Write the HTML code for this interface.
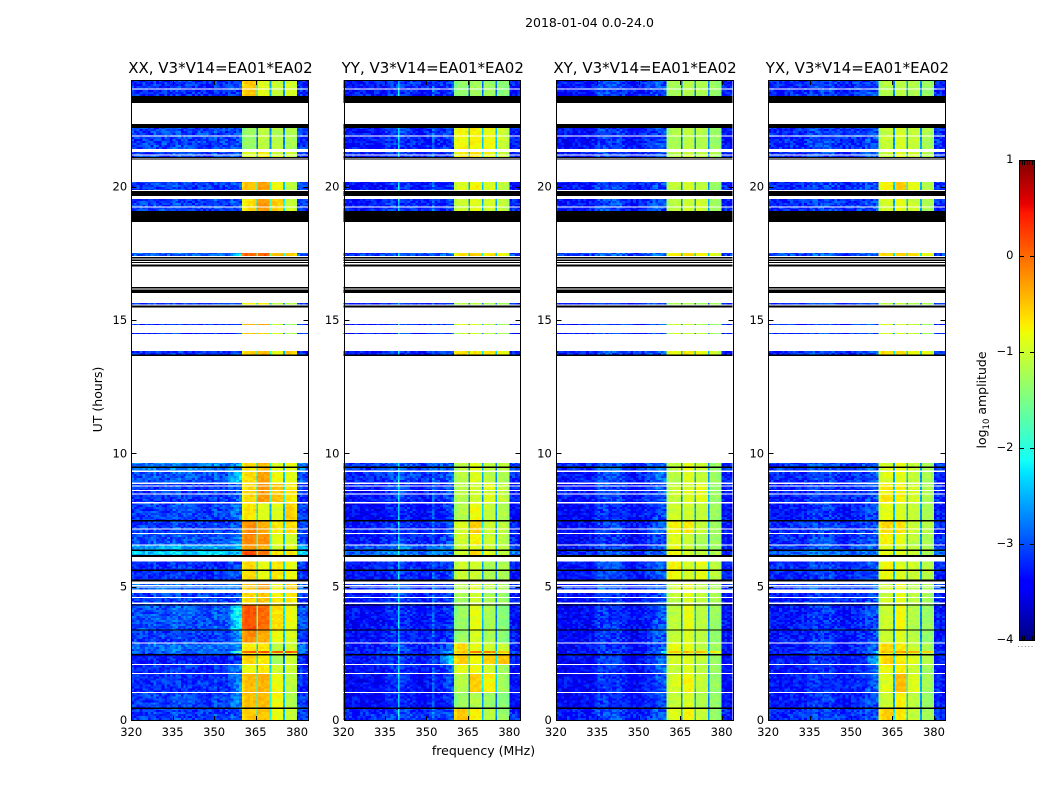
<!DOCTYPE html>
<html>
<head>
<meta charset="utf-8">
<title>2018-01-04 0.0-24.0</title>
<style>
html,body{margin:0;padding:0;background:#fff;width:1050px;height:800px;overflow:hidden}
svg{display:block}
text{font-family:"DejaVu Sans","Liberation Sans",sans-serif;fill:#000}
</style>
</head>
<body>
<svg id="figure" width="1050" height="800" viewBox="0 0 1050 800" xmlns="http://www.w3.org/2000/svg">
  <defs>
    <linearGradient id="jet-gradient" x1="0" y1="1" x2="0" y2="0"></linearGradient>
  </defs>
  <text x="589.5" y="27" font-size="12.5" text-anchor="middle">2018-01-04 0.0-24.0</text>
  <text x="483.5" y="755" font-size="12.5" text-anchor="middle">frequency (MHz)</text>
  <text transform="translate(102,399.5) rotate(-90)" font-size="12.5" text-anchor="middle">UT (hours)</text>
  <g id="panels"></g>
  <g id="colorbar">
    <rect x="1019.5" y="160.5" width="15" height="480" fill="url(#jet-gradient)" stroke="#000" stroke-width="1"></rect>
    <line x1="1018" y1="646.5" x2="1035" y2="646.5" stroke="#888" stroke-width="1" stroke-dasharray="1 2.4"></line>
  </g>
  <text transform="translate(986,400) rotate(-90)" font-size="12.5" text-anchor="middle">log<tspan font-size="8.5" dy="3">10</tspan><tspan dy="-3"> amplitude</tspan></text>
</svg>
<script>
// ---- axis data ----
const hourTicks = [0, 5, 10, 15, 20];
const freqTicks = [320, 335, 350, 365, 380];
const colorTicks = [1, 0, -1, -2, -3, -4];
const panelTitles = ["XX, V3*V14=EA01*EA02", "YY, V3*V14=EA01*EA02", "XY, V3*V14=EA01*EA02", "YX, V3*V14=EA01*EA02"];
const panelKeys = ["xx", "yy", "xy", "yx"];

// ---- time blocks with data (UT hours) ----
const segStart = [0,0.43,1.03,1.74,2.08,2.44,2.51,2.59,2.89,3.38,4.31,4.9,5.23,6.15,6.34,6.56,7.01,7.46,8.14,8.85,9.3,13.69,14.47,14.81,15.47,17.4,19.09,19.84,21.11,21.41,23.4];
const segEnd   = [0.43,1.03,1.74,2.08,2.44,2.51,2.59,2.89,3.38,4.31,4.76,5.1,5.95,6.34,6.56,7.01,7.46,8.14,8.85,9.3,9.64,13.84,14.51,14.85,15.64,17.51,19.54,20.18,21.3,22.2,24];

// ---- log10 amplitude per block: [low band, 355-360 ramp, 360-365, 365-370, 370-375, 375-380] ----
const xxLevels = [
[-3.1,-3.0,-0.5,-0.5,-0.85,-1.0],[-3.1,-2.7,-0.45,-0.45,-0.8,-1.15],[-3.2,-2.7,-0.45,-0.4,-0.8,-1.1],[-3.2,-2.8,-0.8,-0.7,-1.0,-1.0],
[-3.3,-3.1,-0.6,-0.7,-1.25,-0.95],[-3.1,-2.6,-0.7,-0.7,-1.0,-1.0],[-2.9,-1.8,0.1,0.1,0.1,0.1],[-2.9,-2.8,-0.7,-0.7,-1.1,-1.0],
[-3.1,-2.6,-0.2,-0.35,-0.8,-0.9],[-3.0,-2.1,0.15,0.0,-0.65,-0.8],[-3.1,-3.0,-0.6,-0.5,-0.7,-0.7],[-2.9,-2.8,-0.5,-0.3,-0.75,-0.55],
[-3.2,-3.0,-0.6,-0.85,-0.7,-0.8],[-2.4,-2.5,0.15,-0.1,-0.65,-0.7],[-2.6,-2.5,-0.3,-0.4,-0.95,-0.9],[-3.0,-2.7,-0.15,-0.2,-0.85,-0.95],
[-3.1,-2.9,-0.2,-0.35,-0.7,-0.6],[-3.1,-2.8,-0.65,-0.9,-0.9,-0.55],[-3.15,-2.9,-0.6,-0.25,-0.5,-0.7],[-3.0,-2.4,-0.6,-0.3,-0.8,-0.85],
[-2.8,-2.6,-0.65,-0.45,-0.9,-0.8],[-3.2,-3.0,-0.5,-0.45,-0.85,-0.55],[-3.2,-3.1,-0.55,-0.55,-0.9,-1.2],[-3.2,-3.1,-0.45,-0.4,-1.0,-1.3],
[-3.1,-3.0,-0.75,-0.75,-1.05,-1.1],[-2.9,-2.3,0.05,0.05,-0.45,-0.5],[-3.1,-3.0,-0.65,-0.25,-0.55,-1.0],[-3.1,-3.0,-0.45,-0.3,-0.8,-1.1],
[-3.1,-3.0,-0.9,-0.75,-0.95,-1.0],[-3.1,-3.0,-1.3,-1.1,-1.15,-1.2],[-3.2,-3.1,-0.5,-0.9,-1.05,-0.95]];
const yyLevels = [
[-3.2,-3.1,-0.5,-0.75,-1.1,-1.3],[-3.4,-3.2,-1.3,-1.15,-1.3,-1.4],[-3.4,-3.1,-1.1,-0.55,-0.75,-1.25],[-3.35,-3.0,-0.85,-0.8,-1.0,-1.25],
[-3.3,-2.3,-0.55,-0.8,-0.55,-0.5],[-3.3,-3.0,-0.7,-0.9,-0.9,-0.9],[-3.2,-2.6,-0.45,-0.1,-0.1,-0.5],[-3.3,-3.0,-0.6,-0.85,-1.0,-1.0],
[-3.35,-3.2,-1.3,-0.95,-1.2,-1.4],[-3.35,-3.2,-1.3,-0.85,-1.2,-1.4],[-3.3,-3.2,-1.2,-1.0,-1.2,-1.3],[-3.2,-3.1,-1.1,-0.9,-1.1,-1.2],
[-3.3,-3.1,-1.0,-1.0,-1.2,-1.2],[-2.9,-2.9,-1.0,-0.6,-0.9,-1.1],[-3.0,-2.9,-1.0,-0.9,-1.0,-1.1],[-3.3,-3.0,-1.0,-0.75,-1.0,-1.1],
[-3.3,-3.1,-0.9,-0.55,-1.0,-1.1],[-3.4,-3.1,-1.15,-0.8,-1.05,-1.15],[-3.3,-3.1,-1.1,-1.0,-0.9,-1.05],[-3.2,-3.0,-1.1,-0.9,-1.1,-1.2],
[-3.1,-3.0,-1.1,-0.9,-1.1,-1.1],[-3.3,-3.2,-0.6,-0.7,-0.7,-0.8],[-3.3,-3.2,-1.0,-1.0,-1.1,-1.2],[-3.3,-3.2,-0.9,-0.9,-1.1,-1.2],
[-3.3,-3.2,-1.1,-1.1,-1.2,-1.2],[-3.1,-2.9,-0.7,-0.55,-0.7,-0.8],[-3.3,-3.2,-1.0,-0.9,-0.95,-1.1],[-3.3,-3.2,-0.9,-0.75,-0.9,-1.05],
[-3.3,-3.2,-0.75,-0.7,-0.8,-1.0],[-3.3,-3.2,-0.75,-0.75,-0.8,-1.0],[-3.3,-3.2,-1.35,-1.25,-1.3,-1.4]];
const xyLevels = [
[-3.3,-3.1,-0.9,-0.75,-1.05,-1.3],[-3.4,-3.2,-1.05,-0.95,-1.15,-1.35],[-3.4,-3.1,-0.95,-0.75,-1.05,-1.3],[-3.4,-3.0,-1.0,-0.9,-1.1,-1.3],
[-3.4,-3.0,-0.95,-0.9,-1.05,-1.3],[-3.4,-3.0,-1.0,-1.0,-1.1,-1.3],[-3.3,-2.5,-0.5,-0.45,-0.5,-0.7],[-3.4,-3.1,-0.85,-0.85,-1.05,-1.3],
[-3.4,-3.1,-1.05,-0.95,-1.1,-1.35],[-3.4,-3.1,-1.1,-0.85,-1.1,-1.3],[-3.35,-3.1,-1.1,-0.9,-1.05,-1.2],[-3.2,-3.1,-1.0,-0.8,-1.1,-1.2],
[-3.3,-3.1,-0.75,-0.95,-0.85,-1.1],[-3.2,-3.1,-0.8,-0.95,-1.1,-1.15],[-3.3,-3.1,-0.85,-1.0,-1.2,-1.3],[-3.4,-3.2,-0.9,-1.05,-1.2,-1.3],
[-3.35,-3.1,-0.75,-0.7,-1.05,-1.25],[-3.4,-3.2,-1.0,-1.0,-1.05,-1.3],[-3.3,-3.1,-1.05,-0.9,-0.85,-1.3],[-3.3,-3.0,-1.1,-0.9,-1.05,-1.3],
[-3.2,-3.1,-1.1,-0.85,-1.05,-1.3],[-3.2,-3.1,-0.8,-0.7,-0.85,-1.0],[-3.3,-3.2,-1.0,-1.0,-1.1,-1.3],[-3.3,-3.2,-1.0,-1.0,-1.1,-1.3],
[-3.3,-3.2,-1.2,-1.2,-1.3,-1.3],[-3.1,-3.0,-0.75,-0.65,-0.75,-0.9],[-3.3,-3.2,-1.1,-1.0,-1.0,-1.25],[-3.3,-3.2,-1.1,-0.95,-1.1,-1.3],
[-3.3,-3.2,-1.1,-1.0,-1.1,-1.2],[-3.35,-3.2,-1.2,-1.1,-1.15,-1.3],[-3.3,-3.2,-1.2,-1.15,-1.2,-1.3]];
const yxLevels = [
[-3.2,-3.1,-0.55,-0.7,-1.05,-1.25],[-3.3,-3.1,-1.0,-0.75,-1.1,-1.3],[-3.3,-3.0,-0.9,-0.45,-0.9,-1.25],[-3.3,-2.9,-0.8,-0.7,-1.0,-1.25],
[-3.3,-2.6,-0.6,-0.7,-0.9,-1.1],[-3.3,-3.0,-0.8,-0.8,-1.0,-1.2],[-3.2,-2.5,-0.4,-0.3,-0.4,-0.6],[-3.3,-3.0,-0.6,-0.7,-1.0,-1.2],
[-3.3,-3.1,-1.0,-0.9,-1.15,-1.35],[-3.3,-3.1,-1.0,-0.8,-1.15,-1.3],[-3.25,-3.1,-1.0,-0.85,-1.1,-1.25],[-3.1,-3.0,-1.0,-0.8,-1.1,-1.25],
[-3.2,-3.1,-0.8,-0.9,-1.0,-1.1],[-2.9,-2.9,-0.8,-0.9,-1.05,-1.2],[-3.1,-3.0,-0.9,-0.95,-1.1,-1.2],[-3.2,-3.1,-0.75,-0.85,-1.1,-1.2],
[-3.2,-3.1,-0.6,-0.65,-1.0,-1.15],[-3.3,-3.1,-0.85,-0.95,-1.05,-1.2],[-3.25,-3.1,-0.7,-0.75,-0.95,-1.2],[-3.2,-3.0,-0.9,-0.85,-1.05,-1.2],
[-3.1,-3.0,-0.95,-0.8,-1.05,-1.2],[-3.2,-3.1,-0.6,-0.6,-0.8,-0.9],[-3.2,-3.1,-0.95,-0.95,-1.05,-1.25],[-3.2,-3.1,-0.9,-0.9,-1.05,-1.25],
[-3.2,-3.1,-1.1,-1.1,-1.2,-1.2],[-3.05,-2.95,-0.6,-0.55,-0.7,-0.85],[-3.2,-3.1,-0.95,-0.85,-1.0,-1.2],[-3.2,-3.1,-0.75,-0.55,-0.85,-1.15],
[-3.2,-3.1,-1.0,-0.9,-1.0,-1.15],[-3.2,-3.1,-1.05,-0.95,-1.05,-1.2],[-3.2,-3.1,-1.15,-1.1,-1.15,-1.3]];

// ---- channel lower edges in MHz (narrow channels carry the thin spectral lines and notches) ----
const channelEdges = [
320,321,322,323,324,325,326,327,328,329,330,331,332,333,334,335,
336,337,338,339,339.7,340.3,342,343,344,345,346,347,348,349,350,351,
352,353,354,355,356,357,358,359,360,361,362,363,364,365.25,365.85,367,
368,369,370.1,370.7,372,373,374,375,375.6,377,378,379,380,381,382,383,384];
const channelGroup = [
0,0,0,0,0,0,0,0,0,0,0,0,0,0,0,0,
0,0,0,0,0,0,0,0,0,0,0,0,0,0,0,0,
0,0,0,1,1,1,1,1,2,2,2,2,2,2,3,3,
3,3,3,4,4,4,4,4,5,5,5,5,0,0,0,0];
const channelShape = [
0,0,0,0,0,0,0,0,0,0,0,0,0,0,0,0,
0,0,0,0,0,0,0,0,0,0,0,0,0,0,0,0,
0,0,0,0.2,0.45,0.7,0.9,1,-0.15,0,0,0,0,-1.6,0,0,
0,0,-1.6,0,0,0,0,-1.6,0,0,0,-0.1,0,0,0,0];
const xxStripe = [
0,0,0.05,0,0,0.05,0,0,0.1,0,0,0.05,0,0,0,0.1,
0.1,0.1,0,0.05,0.1,0.05,0,0,0.05,0,0,0.05,0,0,0.1,0,
0,0,0,0,0.1,0,0,0,0,0,0,0,0,0,0,0,
0,0,0,0,0,0,0,0,0,0,0,0,0,0.05,0,-0.1];
const yyStripe = [
0,0,0,0,0,0,0,0,0,0,0,0,0,0,0,0.1,
0.15,0.2,0.2,0.15,1.1,0.2,0.15,0.2,0.15,0.1,0.05,0.05,0,0,0.1,0.05,
0.4,0.05,0.1,0.1,0.1,0.1,0.1,0.1,0,0,0,0,0,0,0,0,
0,0,0,0,0,0,0,0,0,0,0,0,0,0.05,0,0];
const xyStripe = [
0,0,0,0,0,0,0,0,0,0,0,0,0,0,0.1,0.3,
0.25,0.3,0.3,0.25,0.3,0.25,0.3,0.25,0.2,0.1,0.05,0,0,0,0.05,0.05,
0.15,0.2,0.2,0.25,0.3,0.2,0.2,0.15,0,0,0,0,0,0,0,0,
0,0,0,0,0,0,0,0,0,0,0,0,0,0.05,0,0];
const yxStripe = [
0,0,0,0,0,0,0,0,0,0,0,0,0,0,0.05,0.15,
0.2,0.15,0.15,0.2,0.25,0.15,0.2,0.15,0.1,0.05,0,0,0,0,0.05,0.05,
0.1,0.1,0.1,0.15,0.2,0.1,0.1,0.1,0,0,0,0,0,0,0,0,
0,0,0,0,0,0,0,0,0,0,0,0,0,0.05,0,0];

// ---- flagged integrations, shared by all panels (UT hours) ----
const whiteStart = [1.01,1.72,2.06,2.87,4.35,4.57,4.96,5.03,6.54,6.98,7.14,8.12,8.46,8.59,8.76,8.85,9.3,15.52,19.84,19.22,21.17,21.88,23.64];
const whiteEnd   = [1.05,1.76,2.1,2.91,4.4,4.62,5.0,5.06,6.58,7.02,7.18,8.17,8.5,8.63,8.8,8.9,9.36,15.58,19.87,19.26,21.21,21.92,23.68];
const blackStart = [0.41,2.42,3.35,4.29,5.2,5.59,6.12,6.33,7.45,9.45,13.65,15.46,16.01,16.18,17.01,17.13,17.22,17.31,18.68,19.65,21.01,21.07,22.2,23.14];
const blackEnd   = [0.46,2.47,3.4,4.34,5.27,5.65,6.18,6.39,7.5,9.5,13.7,15.55,16.14,16.23,17.09,17.18,17.27,17.36,19.09,19.84,21.06,21.12,22.35,23.4];

// ---- receiver noise grain: hand-typed offsets, estimated not measured ----
const grain = [0.22,-0.31,0.08,-0.12,0.34,-0.26,0.03,0.17,-0.35,0.11,-0.06,0.28,-0.19,0.14,-0.29,0.05,0.31,-0.09,-0.22,0.19,0.01,-0.33,0.25,-0.15,0.09,0.36,-0.24,-0.04,0.13,-0.3,0.21,-0.11,0.06,-0.27,0.29,-0.02,0.16,-0.18,0.33,-0.34,0.1,-0.07,0.24,-0.21,0.02,0.18,-0.13];
const grainLowScale = 0.85;
const grainBandScale = 0.3;

// ---- jet colormap control points: fraction, red, green, blue ----
const jetFrac  = [0,0.11,0.125,0.34,0.35,0.375,0.64,0.65,0.66,0.89,0.91,1];
const jetRed   = [0,0,0,0,0,0.078,0.93,0.97,1,1,0.91,0.5];
const jetGreen = [0,0,0,0.86,0.9,1,1,0.96,0.92,0.09,0,0];
const jetBlue  = [0.5,1,1,1,1,0.97,0.03,0,0,0,0,0];

const levelsByPanel = [xxLevels, yyLevels, xyLevels, yxLevels];
const stripeByPanel = [xxStripe, yyStripe, xyStripe, yxStripe];

const SVGNS = "http://www.w3.org/2000/svg";
const plotTop = 80, plotBottom = 720, plotWidth = 176.9, panelStep = 212.3, firstLeft = 131.2;
const hourMax = 24, freqMin = 320, freqMax = 384, rowStep = 0.075;
const colorMin = -4, colorMax = 1, cbTop = 160, cbBottom = 640, cbLeft = 1019, cbRight = 1034;

function yOf(h) { return plotBottom - (h / hourMax) * (plotBottom - plotTop); }
function xOf(f, left) { return left + (f - freqMin) / (freqMax - freqMin) * plotWidth; }
function cbY(v) { return cbBottom - (v - colorMin) / (colorMax - colorMin) * (cbBottom - cbTop); }
function lerp(arr, t) {
  for (let i = 1; i < jetFrac.length; i++) {
    if (t <= jetFrac[i]) {
      const a = (t - jetFrac[i - 1]) / (jetFrac[i] - jetFrac[i - 1]);
      return arr[i - 1] + a * (arr[i] - arr[i - 1]);
    }
  }
  return arr[arr.length - 1];
}
function jet(v) {
  const t = Math.max(0, Math.min(1, (v - colorMin) / (colorMax - colorMin)));
  return "rgb(" + Math.round(255 * lerp(jetRed, t)) + "," + Math.round(255 * lerp(jetGreen, t)) + "," + Math.round(255 * lerp(jetBlue, t)) + ")";
}
function make(tag, parent) {
  const el = document.createElementNS(SVGNS, tag);
  parent.appendChild(el);
  return el;
}
function tickLine(parent, x1, y1, x2, y2) {
  const l = make("line", parent);
  
  
  l.setAttribute("x1", x1); l.setAttribute("y1", y1);
  l.setAttribute("x2", x2); l.setAttribute("y2", y2);
  l.setAttribute("stroke", "#000");
  l.setAttribute("stroke-width", "1");
  return l;
}
function cellValue(levels, stripe, seg, c, r) {
  const group = channelGroup[c];
  const row = levels[seg];
  const g = grain[(r * r * 3 + c * c * 7 + r * c) % grain.length];
  if (group === 0) return row[0] + stripe[c] + g * grainLowScale;
  if (group === 1) return row[0] + (row[1] - row[0]) * channelShape[c] + stripe[c] + g * grainLowScale;
  return row[group] + channelShape[c] + g * grainBandScale;
}

const panelsRoot = document.getElementById("panels");
panelKeys.forEach(function (key, p) {
  const left = firstLeft + p * panelStep;
  const frameLeft = Math.round(left) + 0.5;
  const frameRight = Math.round(left + plotWidth) + 0.5;
  const panel = make("g", panelsRoot);
  
  

  const title = make("text", panel);
  
  
  title.setAttribute("x", left + plotWidth / 2 + 0.8);
  title.setAttribute("y", 73);
  title.setAttribute("font-size", "15");
  title.setAttribute("text-anchor", "middle");
  title.textContent = panelTitles[p];

  const heat = make("g", panel);
  
  
  heat.setAttribute("shape-rendering", "crispEdges");
  const levels = levelsByPanel[p], stripe = stripeByPanel[p];
  let rowCounter = p * 37;
  for (let s = 0; s < segStart.length; s++) {
    for (let h = segStart[s]; h < segEnd[s] - 1e-6; h += rowStep) {
      const top = Math.min(h + rowStep, segEnd[s]);
      rowCounter++;
      for (let c = 0; c < channelGroup.length; c++) {
        const cell = make("rect", heat);
        
        
        const x0 = xOf(channelEdges[c], left), x1 = xOf(channelEdges[c + 1], left);
        cell.setAttribute("x", x0.toFixed(2));
        cell.setAttribute("y", yOf(top).toFixed(2));
        cell.setAttribute("width", (x1 - x0).toFixed(2));
        cell.setAttribute("height", (yOf(h) - yOf(top)).toFixed(2));
        cell.setAttribute("fill", jet(cellValue(levels, stripe, s, c, rowCounter)));
      }
    }
  }
  whiteStart.forEach(function (h0, i) {
    const flag = make("rect", heat);
    
    
    flag.setAttribute("x", left);
    flag.setAttribute("y", yOf(whiteEnd[i]).toFixed(2));
    flag.setAttribute("width", plotWidth);
    flag.setAttribute("height", Math.max(1, yOf(h0) - yOf(whiteEnd[i])).toFixed(2));
    flag.setAttribute("fill", "#fff");
  });
  blackStart.forEach(function (h0, i) {
    const flag = make("rect", heat);
    
    
    flag.setAttribute("x", left);
    flag.setAttribute("y", yOf(blackEnd[i]).toFixed(2));
    flag.setAttribute("width", plotWidth);
    flag.setAttribute("height", Math.max(1, yOf(h0) - yOf(blackEnd[i])).toFixed(2));
    flag.setAttribute("fill", "#000");
  });

  const frame = make("rect", panel);
  
  
  frame.setAttribute("x", frameLeft);
  frame.setAttribute("y", plotTop + 0.5);
  frame.setAttribute("width", frameRight - frameLeft);
  frame.setAttribute("height", plotBottom - plotTop);
  frame.setAttribute("fill", "none");
  frame.setAttribute("stroke", "#000");
  frame.setAttribute("stroke-width", "1");

  freqTicks.forEach(function (f) {
    const x = Math.round(xOf(f, left)) + 0.5;
    tickLine(panel, x, plotBottom + 0.5, x, plotBottom - 4);
    tickLine(panel, x, plotTop + 0.5, x, plotTop + 5);
    const label = make("text", panel);
    
    
    label.setAttribute("x", xOf(f, left));
    label.setAttribute("y", 736);
    label.setAttribute("font-size", "11.5");
    label.setAttribute("text-anchor", "middle");
    label.textContent = String(f);
  });
  hourTicks.forEach(function (h) {
    const y = Math.round(yOf(h)) + 0.5;
    tickLine(panel, frameLeft, y, frameLeft + 5, y);
    tickLine(panel, frameRight, y, frameRight - 5, y);
    const label = make("text", panel);
    
    
    label.setAttribute("x", left - 4);
    label.setAttribute("y", yOf(h) + 4);
    label.setAttribute("font-size", "11.5");
    label.setAttribute("text-anchor", "end");
    label.textContent = String(h);
  });
});

// ---- colorbar ----
const gradient = document.getElementById("jet-gradient");
jetFrac.forEach(function (f) {
  const stop = make("stop", gradient);
  stop.setAttribute("offset", f);
  stop.setAttribute("stop-color", jet(colorMin + f * (colorMax - colorMin)));
});
const cbRoot = document.getElementById("colorbar");
colorTicks.forEach(function (v) {
  const y = Math.round(cbY(v)) + 0.5;
  tickLine(cbRoot, cbLeft + 0.5, y, cbLeft + 5, y);
  tickLine(cbRoot, cbRight + 0.5, y, cbRight - 4, y);
  const label = make("text", cbRoot);
  
  
  label.setAttribute("x", cbLeft - 5.5);
  label.setAttribute("y", cbY(v) + 3);
  label.setAttribute("font-size", "11.5");
  label.setAttribute("text-anchor", "end");
  label.textContent = v < 0 ? "\u2212" + Math.abs(v) : String(v);
});
for (let m = 1; m <= 5; m++) {
  const x = Math.round(cbLeft + m * 2.5) + 0.5;
  tickLine(cbRoot, x, cbTop + 0.5, x, cbTop + 5);
  tickLine(cbRoot, x, cbBottom + 0.5, x, cbBottom - 4);
}
</script>
</body>
</html>
